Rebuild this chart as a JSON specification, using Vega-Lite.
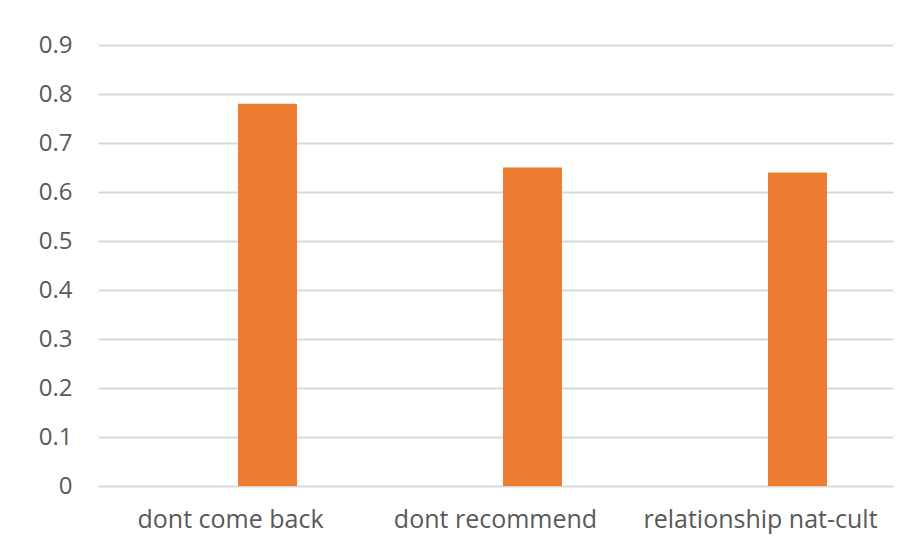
{
  "$schema": "https://vega.github.io/schema/vega-lite/v6.json",
  "width": 795,
  "height": 441,
  "autosize": {"type": "none"},
  "padding": {"left": 98, "top": 45, "right": 26, "bottom": 62},
  "background": "white",
  "data": {
    "values": [
      {"category": "dont come back", "series": "s1", "value": null},
      {"category": "dont come back", "series": "s2", "value": 0.78},
      {"category": "dont recommend", "series": "s1", "value": null},
      {"category": "dont recommend", "series": "s2", "value": 0.65},
      {"category": "relationship nat-cult", "series": "s1", "value": null},
      {"category": "relationship nat-cult", "series": "s2", "value": 0.64}
    ]
  },
  "mark": {"type": "bar", "color": "#ED7D31"},
  "encoding": {
    "x": {
      "field": "category",
      "type": "nominal",
      "sort": null,
      "title": null,
      "scale": {"paddingInner": 0, "paddingOuter": 0},
      "axis": {
        "labelAngle": 0,
        "domain": false,
        "ticks": false,
        "labelPadding": 21,
        "labelFont": "Open Sans",
        "labelFontSize": 25,
        "labelLimit": 0,
        "labelColor": "#595959",
        "grid": false
      }
    },
    "xOffset": {
      "field": "series",
      "type": "nominal",
      "scale": {"domain": ["s1", "s2"], "paddingInner": 0.2027, "paddingOuter": 0.8919}
    },
    "y": {
      "field": "value",
      "type": "quantitative",
      "title": null,
      "scale": {"domain": [0, 0.9], "nice": false},
      "axis": {
        "values": [0, 0.1, 0.2, 0.3, 0.4, 0.5, 0.6, 0.7, 0.8, 0.9],
        "labelExpr": "datum.value == 0 ? '0' : format(datum.value, '.1f')",
        "domain": false,
        "ticks": false,
        "labelPadding": 26,
        "labelFont": "Open Sans",
        "labelFontSize": 24,
        "labelColor": "#595959",
        "gridColor": "#D9D9D9",
        "gridWidth": 2
      }
    }
  },
  "config": {"view": {"stroke": null}}
}
